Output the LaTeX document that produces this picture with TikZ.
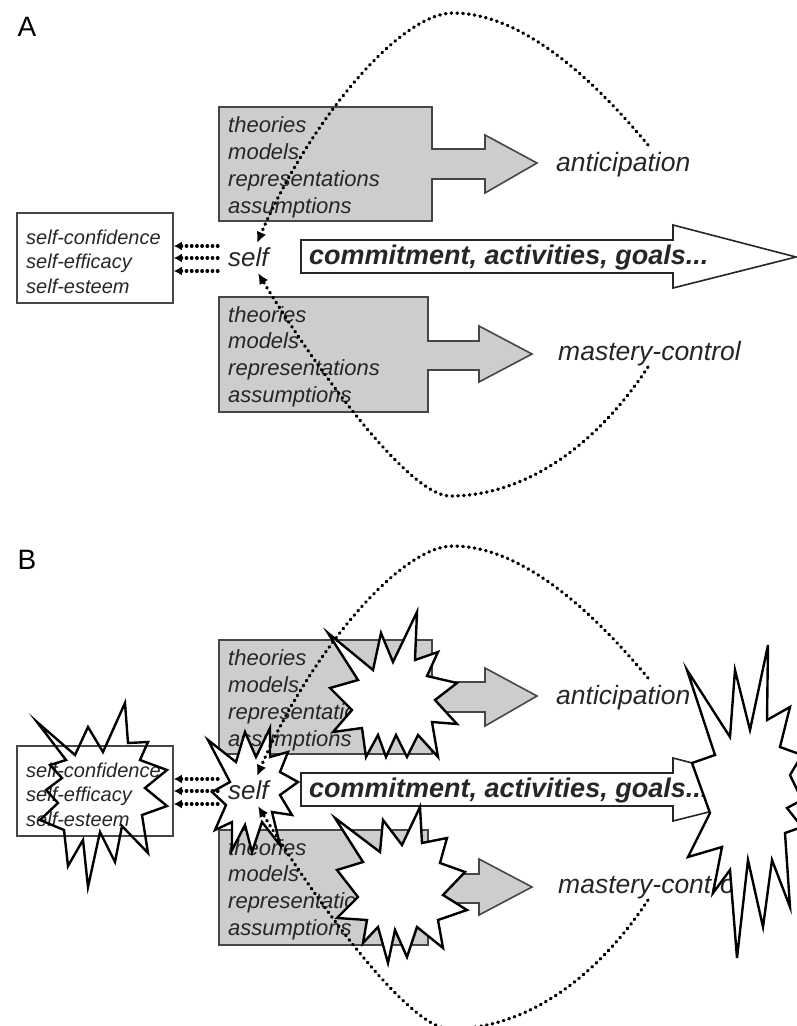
\documentclass[tikz,border=0pt]{standalone}
\usepackage{fontspec}
\setmainfont{Liberation Sans}
\usetikzlibrary{arrows.meta}
\definecolor{boxgray}{RGB}{205,205,205}
\definecolor{boxline}{RGB}{70,70,70}
\tikzset{
  grayshape/.style={fill=boxgray,draw=boxline,line width=1.6pt},
  whitearrow/.style={fill=white,draw=black!85,line width=1.6pt},
  selfbox/.style={draw=boxline,fill=white,line width=1.6pt,minimum width=156pt,minimum height=90pt,inner sep=0pt},
  txt/.style={inner sep=0pt,anchor=base west,text=black!85},
  boxtxt/.style={txt,font=\fontsize{22}{26}\selectfont\itshape},
  smalltxt/.style={txt,font=\fontsize{20}{24}\selectfont\itshape},
  bigtxt/.style={txt,font=\fontsize{26.5}{30}\selectfont\itshape},
  selftxt/.style={txt,font=\fontsize{26}{30}\selectfont\itshape},
  committxt/.style={txt,font=\fontsize{27}{30}\selectfont\bfseries\itshape},
  lbl/.style={inner sep=0pt,font=\fontsize{28}{30}\selectfont},
  dotcurve/.style={line width=3.4pt,line cap=round,dash pattern=on 0.6pt off 5.2pt,-{Latex[length=11pt,width=10pt]}},
  dotarrow/.style={line width=3.2pt,line cap=round,dash pattern=on 0.6pt off 4.6pt,-{Latex[length=8pt,width=9pt]}},
  explo/.style={draw=black,fill=white,line width=2.4pt},
  explo open/.style={draw=black,line width=2.4pt},
}
% part 1: boxes, arrows, texts
\newcommand{\panelbase}[2]{%
  \node[lbl] (#1lab) at (27,27) {#2};
  \draw[grayshape] (219,107) -- (432,107) -- (432,149) -- (485,149) -- (485,135) -- (537,163)
     -- (485,193) -- (485,179) -- (432,179) -- (432,221) -- (219,221) -- cycle;
  \node[boxtxt] (#1ta) at (228,132) {theories};
  \node[boxtxt] (#1tb) at (228,159) {models};
  \node[boxtxt] (#1tc) at (228,186) {representations};
  \node[boxtxt] (#1td) at (228,213) {assumptions};
  \draw[grayshape] (219,297) -- (428,297) -- (428,341) -- (479,341) -- (479,326) -- (532,354)
     -- (479,382) -- (479,370) -- (428,370) -- (428,412) -- (219,412) -- cycle;
  \node[boxtxt] (#1ba) at (228,322) {theories};
  \node[boxtxt] (#1bb) at (228,348) {models};
  \node[boxtxt] (#1bc) at (228,375) {representations};
  \node[boxtxt] (#1bd) at (228,402) {assumptions};
  \draw[whitearrow] (301,240) -- (673,240) -- (673,225) -- (796,257) -- (673,288) -- (673,273)
     -- (301,273) -- cycle;
  \node[committxt] (#1com) at (309,264) {commitment, activities, goals...};
  \node[bigtxt] (#1ant) at (556,171) {anticipation};
  \node[bigtxt] (#1mas) at (558,360) {mastery-control};
  \node[selfbox] (#1sbox) at (95,258) {};
  \node[smalltxt] (#1sa) at (26,244) {self-confidence};
  \node[smalltxt] (#1sb) at (26,268) {self-efficacy};
  \node[smalltxt] (#1sc) at (26,293) {self-esteem};
}
% part 2: self, dotted arrows and curves
\newcommand{\paneltop}[1]{%
  \node[selftxt] (#1self) at (228,266) {self};
  \coordinate (#1da) at (218,246);
  \coordinate (#1db) at (218,258);
  \coordinate (#1dc) at (218,271);
  \draw[dotarrow] (#1da) -- (#1da -| #1sbox.east);
  \draw[dotarrow] (#1db) -- (#1db -| #1sbox.east);
  \draw[dotarrow] (#1dc) -- (#1dc -| #1sbox.east);
  \coordinate (#1cu) at (648,145);
  \coordinate (#1cd) at (648,367);
  \coordinate (#1eu) at (257,243);
  \coordinate (#1ed) at (258,273);
  \draw[dotcurve] (#1cu) .. controls (590,75) and (520,13) .. (453,13)
     .. controls (400,13) and (310,120) .. (#1eu);
  \draw[dotcurve] (#1cd) .. controls (600,440) and (530,496) .. (450,496)
     .. controls (410,496) and (320,375) .. (#1ed);
}
\begin{document}
\begin{tikzpicture}[x=1pt,y=-1pt]
\useasboundingbox (0,0) rectangle (797,1026);
\fill[white] (0,0) rectangle (797,1026);
% Panel A
\panelbase{A}{A}
\paneltop{A}
% Panel B
\begin{scope}[yshift=-533pt]
\panelbase{B}{B}
\end{scope}
% explosions (panel B, absolute coordinates)
\draw[explo open] (37,722) -- (75,755) -- (88,727) -- (103,752) -- (125,703) -- (128,743)
  -- (148,742) -- (140,760) -- (167,770) -- (145,788) -- (167,806) -- (142,815) -- (148,853)
  -- (122,826) -- (115,862) -- (100,832) -- (88,887) -- (83,840) -- (68,866) -- (64,830)
  -- (40,820) -- (58,803) -- (46,790) -- (62,778) -- (50,765) -- (66,760) -- cycle;
\draw[explo] (208,740) -- (236,762) -- (245,732) -- (256,757) -- (270,728) -- (270,757)
  -- (288,752) -- (280,772) -- (298,782) -- (280,795) -- (292,815) -- (272,812) -- (280,845)
  -- (262,822) -- (252,852) -- (245,825) -- (232,850) -- (232,822) -- (215,830) -- (226,805)
  -- (212,792) -- (230,782) -- cycle;
\draw[explo] (328,633) -- (373,670) -- (381,633) -- (393,662) -- (417,612) -- (415,660)
  -- (438,652) -- (427,676) -- (457,683) -- (435,700) -- (457,724) -- (432,722) -- (438,757)
  -- (418,735) -- (407,757) -- (396,735) -- (386,757) -- (378,735) -- (366,757) -- (362,728)
  -- (333,732) -- (352,710) -- (330,688) -- (358,680) -- cycle;
\draw[explo] (335,818) -- (363,862) -- (337,870) -- (358,897) -- (337,918) -- (367,920)
  -- (363,943) -- (378,927) -- (388,963) -- (395,930) -- (407,957) -- (417,927) -- (443,948)
  -- (438,920) -- (467,910) -- (443,895) -- (465,872) -- (440,863) -- (447,838) -- (422,843)
  -- (420,807) -- (402,845) -- (383,820) -- (380,852) -- cycle;
\draw[explo] (687,670) -- (730,737) -- (735,670) -- (750,730) -- (768,645) -- (767,720)
  -- (790,707) -- (780,747) -- (802,755) -- (790,775) -- (802,800) -- (787,808) -- (802,827)
  -- (785,833) -- (790,907) -- (772,860) -- (763,927) -- (748,860) -- (737,958) -- (730,870)
  -- (713,893) -- (722,847) -- (688,857) -- (710,813) -- (692,763) -- (715,755) -- cycle;
\begin{scope}[yshift=-533pt]
\paneltop{B}
\end{scope}
\end{tikzpicture}
\end{document}
